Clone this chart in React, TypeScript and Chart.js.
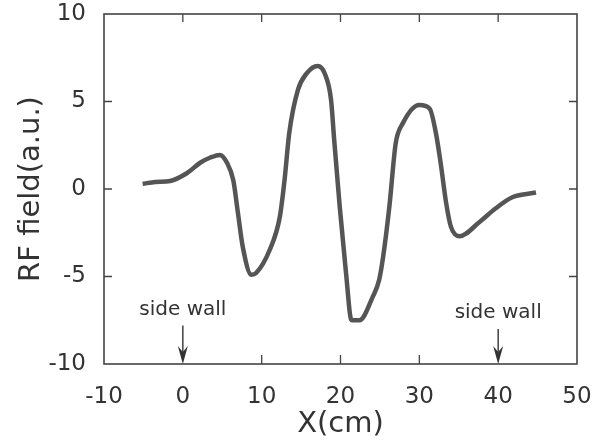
import React, { useEffect, useRef } from "react";
import { Chart, registerables } from "chart.js";

Chart.register(...registerables);

const xValues = [-5.1, -3.5, -1.6, 0.5, 2.2, 3.5, 4.7, 5.6, 6.4, 7.0, 7.6, 8.7, 9.3, 11.0, 12.3, 12.9, 13.5, 14.6, 15.7, 17.1, 18.0, 18.8, 19.2, 19.9, 20.7, 21.4, 22.4, 24.1, 24.9, 25.4, 26.2, 27.0, 27.9, 30.0, 31.3, 32.1, 32.7, 33.4, 34.0, 35.1, 37.6, 39.7, 41.8, 44.8];
const rfField = [0.3, 0.4, 0.46, 0.9, 1.5, 1.8, 1.95, 1.5, 0.5, -1.4, -3.3, -4.9, -4.8, -3.5, -1.6, 0.5, 3.2, 5.66, 6.6, 7.03, 6.6, 5.1, 2.8, -1.0, -4.8, -7.5, -7.5, -6.15, -5.2, -3.9, -1.0, 2.6, 3.75, 4.8, 4.6, 3.2, 1.5, -0.8, -2.15, -2.7, -1.9, -1.1, -0.47, -0.2];

const xTicks = [-10, 0, 10, 20, 30, 40, 50];
const yTicks = [-10, -5, 0, 5, 10];
const topTickMarks = [0, 10, 20, 30, 40];
const bottomTickMarks = [10, 20, 30];
const sideTickMarks = [-5, 0, 5];
const wallPositions = [0, 40];
const wallLabel = "side wall";
const wallLabelY = [-7.2, -7.35];
const wallArrowTop = [-7.8, -8.0];

const FONT = "'DejaVu Sans', sans-serif";
const TEXT = "#333333";

const framePlugin = {
  id: "frame",
  afterDraw(chart: any) {
    const { ctx, chartArea: a, scales } = chart;
    const xs = scales.x;
    const ys = scales.y;
    ctx.save();
    ctx.strokeStyle = "#444444";
    ctx.lineWidth = 1.6;
    ctx.strokeRect(a.left, a.top, a.right - a.left, a.bottom - a.top);
    ctx.lineWidth = 1.3;
    ctx.beginPath();
    topTickMarks.forEach((v) => {
      const px = xs.getPixelForValue(v);
      ctx.moveTo(px, a.top);
      ctx.lineTo(px, a.top + 8);
    });
    bottomTickMarks.forEach((v) => {
      const px = xs.getPixelForValue(v);
      ctx.moveTo(px, a.bottom);
      ctx.lineTo(px, a.bottom - 9);
    });
    sideTickMarks.forEach((v) => {
      const py = ys.getPixelForValue(v);
      ctx.moveTo(a.left, py);
      ctx.lineTo(a.left + 8, py);
      ctx.moveTo(a.right, py);
      ctx.lineTo(a.right - 8, py);
    });
    ctx.stroke();

    // side wall annotations
    ctx.fillStyle = TEXT;
    ctx.font = `20px ${FONT}`;
    ctx.textAlign = "center";
    ctx.textBaseline = "alphabetic";
    wallPositions.forEach((v, i) => {
      const px = xs.getPixelForValue(v);
      ctx.fillText(wallLabel, px, ys.getPixelForValue(wallLabelY[i]));
      const top = ys.getPixelForValue(wallArrowTop[i]);
      ctx.strokeStyle = "#333333";
      ctx.lineWidth = 1.4;
      ctx.beginPath();
      ctx.moveTo(px, top);
      ctx.lineTo(px, a.bottom - 10);
      ctx.stroke();
      ctx.fillStyle = "#333333";
      ctx.beginPath();
      ctx.moveTo(px - 5, a.bottom - 18);
      ctx.lineTo(px, a.bottom - 12);
      ctx.lineTo(px + 5, a.bottom - 18);
      ctx.lineTo(px, a.bottom);
      ctx.closePath();
      ctx.fill();
      ctx.fillStyle = TEXT;
    });
    ctx.restore();
  },
};

export default function App() {
  const ref = useRef<HTMLCanvasElement | null>(null);
  useEffect(() => {
    document.body.style.margin = "0";
    const canvas = ref.current;
    if (!canvas) return;
    const chart = new Chart(canvas, {
      type: "line",
      data: {
        datasets: [
          {
            data: xValues.map((x, i) => ({ x, y: rfField[i] })),
            borderColor: "#555555",
            borderWidth: 4.5,
            pointRadius: 0,
            cubicInterpolationMode: "monotone",
            fill: false,
          },
        ],
      },
      options: {
        animation: false,
        responsive: false,
        events: [],
        layout: { padding: { left: 0, right: 28, top: 14, bottom: 0 } },
        plugins: { legend: { display: false }, tooltip: { enabled: false } },
        scales: {
          x: {
            type: "linear",
            min: -10,
            max: 50,
            afterBuildTicks: (s: any) => {
              s.ticks = xTicks.map((v) => ({ value: v }));
            },
            afterFit: (s: any) => {
              s.height = 78;
              s.paddingLeft = 0;
              s.paddingRight = 0;
            },
            grid: { display: false, drawTicks: false },
            border: { display: false },
            ticks: {
              color: TEXT,
              font: { family: FONT, size: 23 },
              padding: 19,
              maxRotation: 0,
            },
            title: {
              display: true,
              text: "X(cm)",
              color: TEXT,
              font: { family: FONT, size: 29 },
              padding: { top: 0, bottom: 0 },
            },
          },
          y: {
            type: "linear",
            min: -10,
            max: 10,
            afterBuildTicks: (s: any) => {
              s.ticks = yTicks.map((v) => ({ value: v }));
            },
            afterFit: (s: any) => {
              s.width = 104;
              s.paddingTop = 0;
              s.paddingBottom = 0;
            },
            grid: { display: false, drawTicks: false },
            border: { display: false },
            ticks: {
              color: TEXT,
              font: { family: FONT, size: 23 },
              padding: 18,
            },
            title: {
              display: true,
              text: "RF field(a.u.)",
              color: TEXT,
              font: { family: FONT, size: 29 },
              padding: { top: 14, bottom: 0 },
            },
          },
        },
      },
      plugins: [framePlugin],
    });
    return () => chart.destroy();
  }, []);
  return (
    <div style={{ width: 605, height: 442, background: "#ffffff" }}>
      <canvas ref={ref} width={605} height={442} />
    </div>
  );
}
